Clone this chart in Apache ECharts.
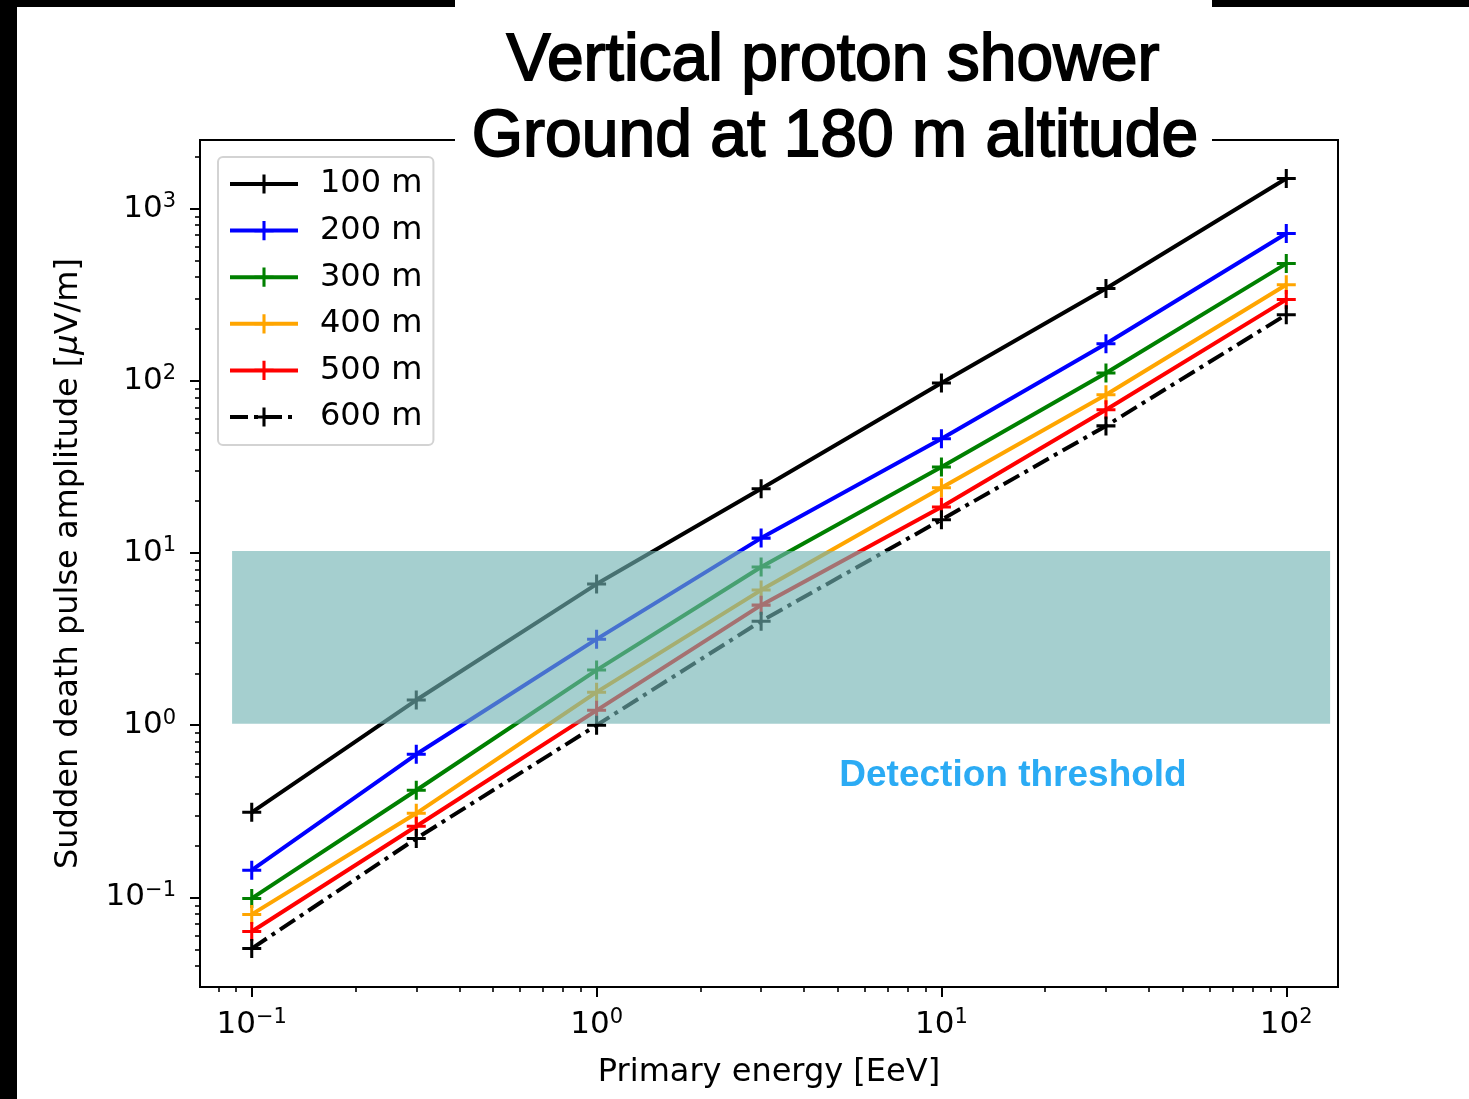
<!DOCTYPE html>
<html><head><meta charset="utf-8">
<script src="https://cdn.jsdelivr.net/npm/echarts@6/dist/echarts.min.js"></script>
<style>html,body{margin:0;padding:0;background:#fff}#c{width:1469px;height:1099px}</style>
</head><body><div id="c"></div>
<script>
// ---- data ----
const energies = [0.1, 0.3, 1, 3, 10, 30, 100];
const amp100 = [0.312, 1.40, 6.6, 23.6, 97, 343, 1494];
const amp200 = [0.144, 0.678, 3.16, 12.2, 46.0, 164, 716];
const amp300 = [0.0987, 0.419, 2.09, 8.29, 31.6, 111, 479];
const amp400 = [0.0797, 0.308, 1.556, 6.09, 23.9, 82.9, 361];
const amp500 = [0.0634, 0.259, 1.22, 4.98, 18.5, 67.8, 296];
const amp600 = [0.0505, 0.220, 1.0, 4.02, 15.6, 54.7, 242];
const seriesNames = ['100 m', '200 m', '300 m', '400 m', '500 m', '600 m'];
const seriesColors = ['#000000', '#0000ff', '#008000', '#ffa500', '#ff0000', '#000000'];
const xMajorTicks = [0.1, 1, 10, 100];
const yMajorTicks = [0.1, 1, 10, 100, 1000];
const xMinorTicks = [0.08, 0.09, 0.2, 0.3, 0.4, 0.5, 0.6, 0.7, 0.8, 0.9, 2, 3, 4, 5, 6, 7, 8, 9, 20, 30, 40, 50, 60, 70, 80, 90];
const yMinorTicks = [0.04, 0.05, 0.06, 0.07, 0.08, 0.09, 0.2, 0.3, 0.4, 0.5, 0.6, 0.7, 0.8, 0.9, 2, 3, 4, 5, 6, 7, 8, 9, 20, 30, 40, 50, 60, 70, 80, 90, 200, 300, 400, 500, 600, 700, 800, 900, 2000];
const thresholdBand = [1.02, 10.27];       // amplitude range of the detection band
const bandEnergyRange = [0.0877, 134];     // energy extent of the band
const xRange = [0.07079, 141.25];
const yRange = [0.0302, 2500];

// ---- chart ----
const ampSets = [amp100, amp200, amp300, amp400, amp500, amp600];
const plusPath = 'path://M-0.16,-1H0.16V-0.16H1V0.16H0.16V1H-0.16V0.16H-1V-0.16H-0.16Z';
const FONT = 'DejaVu Sans';
const LW = 4;

function powLabel(v) {
  const e = Math.round(Math.log10(v));
  return '{b|10}{s|' + (e < 0 ? '\u2212' : '') + Math.abs(e) + '}';
}
const labelRich = {
  b: { fontFamily: FONT, fontSize: 31, lineHeight: 35, color: '#000' },
  s: { fontFamily: FONT, fontSize: 21, lineHeight: 16, verticalAlign: 'top', color: '#000' }
};

const lineSeries = seriesNames.map((name, i) => ({
  name: name,
  type: 'line',
  xAxisIndex: 0, yAxisIndex: 0,
  data: energies.map((e, k) => [e, ampSets[i][k]]),
  symbol: plusPath,
  symbolSize: 19,
  showSymbol: true,
  lineStyle: { color: seriesColors[i], width: LW, type: i === 5 ? [18, 6, 4, 6] : 'solid' },
  itemStyle: { color: seriesColors[i] },
  emphasis: { disabled: true },
  z: 2
}));

const bandSeries = {
  name: 'band',
  type: 'custom',
  xAxisIndex: 0, yAxisIndex: 0,
  data: [[bandEnergyRange[0], thresholdBand[0], bandEnergyRange[1], thresholdBand[1]]],
  encode: { x: [0, 2], y: [1, 3] },
  clip: false,
  z: 10,
  renderItem: function (params, api) {
    const p0 = api.coord([api.value(0), api.value(3)]);
    const p1 = api.coord([api.value(2), api.value(1)]);
    return {
      type: 'rect',
      shape: { x: p0[0], y: p0[1], width: p1[0] - p0[0], height: p1[1] - p0[1] },
      style: { fill: 'rgba(112,179,179,0.63)' }
    };
  },
  silent: true
};

const gridRect = { left: 200, top: 140, width: 1138, height: 847 };

const option = {
  animation: false,
  backgroundColor: '#ffffff',
  grid: [
    Object.assign({ show: true, borderColor: '#000', borderWidth: 2, backgroundColor: 'transparent' }, gridRect),
    Object.assign({ show: false }, gridRect)
  ],
  xAxis: [
    {
      type: 'log', gridIndex: 0, min: xRange[0], max: xRange[1],
      axisLine: { show: true, lineStyle: { color: '#000', width: 2 } },
      axisTick: { show: true, customValues: xMajorTicks, length: 10, lineStyle: { color: '#000', width: 2 } },
      axisLabel: { show: true, customValues: xMajorTicks, formatter: powLabel, rich: labelRich, margin: 20 },
      splitLine: { show: false },
      name: 'Primary energy [EeV]', nameLocation: 'middle', nameGap: 70,
      nameTextStyle: { fontFamily: FONT, fontSize: 32, color: '#000' }
    },
    {
      type: 'log', gridIndex: 1, min: xRange[0], max: xRange[1],
      axisLine: { show: false },
      axisTick: { show: true, customValues: xMinorTicks, length: 5, lineStyle: { color: '#000', width: 1.6 } },
      axisLabel: { show: false },
      splitLine: { show: false }
    }
  ],
  yAxis: [
    {
      type: 'log', gridIndex: 0, min: yRange[0], max: yRange[1],
      axisLine: { show: true, lineStyle: { color: '#000', width: 2 } },
      axisTick: { show: true, customValues: yMajorTicks, length: 10, lineStyle: { color: '#000', width: 2 } },
      axisLabel: { show: true, customValues: yMajorTicks, formatter: powLabel, rich: labelRich, margin: 24 },
      splitLine: { show: false },
      name: 'Sudden death pulse amplitude [{i|\u03bc}V/m]', nameLocation: 'middle', nameGap: 115,
      nameTextStyle: { fontFamily: FONT, fontSize: 32, color: '#000',
        rich: { i: { fontFamily: FONT, fontSize: 32, fontStyle: 'italic', color: '#000' } } }
    },
    {
      type: 'log', gridIndex: 1, min: yRange[0], max: yRange[1],
      axisLine: { show: false },
      axisTick: { show: true, customValues: yMinorTicks, length: 5, lineStyle: { color: '#000', width: 1.6 } },
      axisLabel: { show: false },
      splitLine: { show: false }
    }
  ],
  legend: {
    orient: 'vertical', left: 218, top: 157,
    data: seriesNames,
    itemWidth: 68, itemHeight: 24, itemGap: 14.6,
    padding: [11, 11, 12, 10],
    backgroundColor: 'rgba(255,255,255,0.8)',
    borderColor: '#d3d3d3', borderWidth: 2, borderRadius: 5,
    lineStyle: { width: LW },
    textStyle: { fontFamily: FONT, fontSize: 32, color: '#000', lineHeight: 30, padding: [0, 0, 0, 17] },
    selectedMode: false
  },
  series: lineSeries.concat([bandSeries]),
  graphic: [
    { type: 'rect', z: 100, silent: true, shape: { x: 0, y: 0, width: 17, height: 1099 }, style: { fill: '#000' } },
    { type: 'rect', z: 100, silent: true, shape: { x: 0, y: 0, width: 1469, height: 7 }, style: { fill: '#000' } },
    { type: 'rect', z: 101, silent: true, shape: { x: 455, y: 0, width: 757, height: 160 }, style: { fill: '#fff' } },
    { type: 'text', z: 102, silent: true, style: { text: 'Vertical proton shower', x: 833, y: 62, textAlign: 'center', textVerticalAlign: 'middle',
        font: '66px "Liberation Sans", Arial, sans-serif', fill: '#000', stroke: '#000', lineWidth: 1.8 } },
    { type: 'text', z: 102, silent: true, style: { text: 'Ground at 180 m altitude', x: 835, y: 138, textAlign: 'center', textVerticalAlign: 'middle',
        font: '66px "Liberation Sans", Arial, sans-serif', fill: '#000', stroke: '#000', lineWidth: 1.8 } },
    { type: 'text', z: 102, silent: true, style: { text: 'Detection threshold', x: 1013, y: 776, textAlign: 'center', textVerticalAlign: 'middle',
        font: 'bold 37px "Liberation Sans", Arial, sans-serif', fill: '#2babf4' } }
  ]
};

const chart = echarts.init(document.getElementById('c'), null, { renderer: 'canvas' });
chart.setOption(option);
</script>
</body></html>
